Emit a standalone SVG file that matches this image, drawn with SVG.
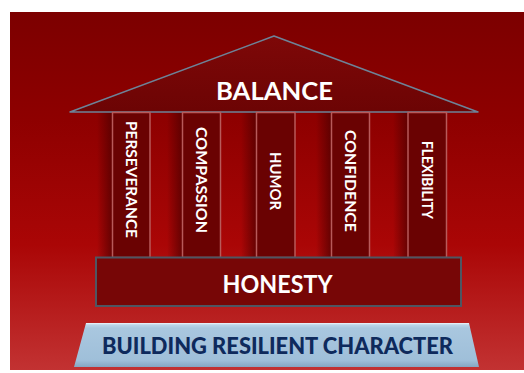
<svg xmlns="http://www.w3.org/2000/svg" width="524" height="373" viewBox="0 0 524 373">
  <style>
    .lbl { font-family: Lato, "Open Sans", "DejaVu Sans", sans-serif; font-weight: 700; fill: #ffffff; }
    .col { fill: #6a0202; stroke: #b85a5a; stroke-width: 1.5; }
    .base-lbl { font-family: Lato, "Open Sans", "DejaVu Sans", sans-serif; font-weight: 900; fill: #0e2a5c; }
  </style>
  <defs>
    <linearGradient id="bg" x1="0" y1="0" x2="0" y2="1">
      <stop offset="0" stop-color="#7c0000"/>
      <stop offset="0.3" stop-color="#8e0000"/>
      <stop offset="0.65" stop-color="#aa0606"/>
      <stop offset="1" stop-color="#c23232"/>
    </linearGradient>
    <linearGradient id="shade" x1="0" y1="0" x2="1" y2="0">
      <stop offset="0" stop-color="#500000" stop-opacity="0"/>
      <stop offset="1" stop-color="#500000" stop-opacity="0.75"/>
    </linearGradient>
    <linearGradient id="roof" x1="0" y1="0" x2="0" y2="1">
      <stop offset="0" stop-color="#7e0808"/>
      <stop offset="1" stop-color="#6c0404"/>
    </linearGradient>
    <linearGradient id="plinth" x1="0" y1="0" x2="0" y2="1">
      <stop offset="0" stop-color="#c6dcee"/>
      <stop offset="0.12" stop-color="#a9c7df"/>
      <stop offset="0.85" stop-color="#9fbfd9"/>
      <stop offset="1" stop-color="#86a6c2"/>
    </linearGradient>
  </defs>

  <!-- backdrop -->
  <rect x="10" y="12" width="514" height="358" fill="url(#bg)"/>

  <!-- soft shadows beside the pillars -->
  <g id="shadows">
    <rect x="97" y="112" width="15" height="146" fill="url(#shade)"/>
    <rect x="167" y="112" width="15" height="146" fill="url(#shade)"/>
    <rect x="241" y="112" width="15" height="146" fill="url(#shade)"/>
    <rect x="316" y="112" width="15" height="146" fill="url(#shade)"/>
    <rect x="393" y="112" width="15" height="146" fill="url(#shade)"/>
  </g>

  <g id="roof-node">
    <polygon points="274,36 478,112 70,112" fill="url(#roof)" stroke="#6d8398" stroke-width="1.5" stroke-linejoin="round"/>
    <text class="lbl" x="274.5" y="100" font-size="24" text-anchor="middle" textLength="117" lengthAdjust="spacingAndGlyphs">BALANCE</text>
  </g>

  <g id="pillar-perseverance">
    <rect class="col" x="112.5" y="112.5" width="37.5" height="145"/>
    <text class="lbl" font-size="15" text-anchor="middle" transform="translate(131.3,179.5) rotate(90)" y="5.4" textLength="117" lengthAdjust="spacingAndGlyphs">PERSEVERANCE</text>
  </g>
  <g id="pillar-compassion">
    <rect class="col" x="182.5" y="112.5" width="38" height="145"/>
    <text class="lbl" font-size="15" text-anchor="middle" transform="translate(201.5,180) rotate(90)" y="5.4" textLength="106" lengthAdjust="spacingAndGlyphs">COMPASSION</text>
  </g>
  <g id="pillar-humor">
    <rect class="col" x="256.5" y="112.5" width="38.5" height="145"/>
    <text class="lbl" font-size="15" text-anchor="middle" transform="translate(275.8,181) rotate(90)" y="5.4" textLength="58" lengthAdjust="spacingAndGlyphs">HUMOR</text>
  </g>
  <g id="pillar-confidence">
    <rect class="col" x="331.5" y="112.5" width="38" height="145"/>
    <text class="lbl" font-size="15" text-anchor="middle" transform="translate(350.5,181) rotate(90)" y="5.4" textLength="102" lengthAdjust="spacingAndGlyphs">CONFIDENCE</text>
  </g>
  <g id="pillar-flexibility">
    <rect class="col" x="408" y="112.5" width="38.5" height="145"/>
    <text class="lbl" font-size="15" text-anchor="middle" transform="translate(427.3,180) rotate(90)" y="5.4" textLength="78" lengthAdjust="spacingAndGlyphs">FLEXIBILITY</text>
  </g>

  <g id="honesty-node">
    <rect x="96" y="257.5" width="365" height="48.5" fill="#770606" stroke="#4e5662" stroke-width="2"/>
    <text class="lbl" x="277.5" y="293" font-size="24" text-anchor="middle" textLength="110" lengthAdjust="spacingAndGlyphs">HONESTY</text>
  </g>

  <g id="base-node">
    <polygon points="86,323 469,323 479,367 74,367" fill="url(#plinth)"/>
    <polyline points="86,323.6 469,323.6" fill="none" stroke="#e2eef8" stroke-width="1.2"/>
    <text class="base-lbl" x="277.5" y="354" font-size="22" text-anchor="middle" textLength="351" lengthAdjust="spacingAndGlyphs">BUILDING RESILIENT CHARACTER</text>
  </g>
</svg>
